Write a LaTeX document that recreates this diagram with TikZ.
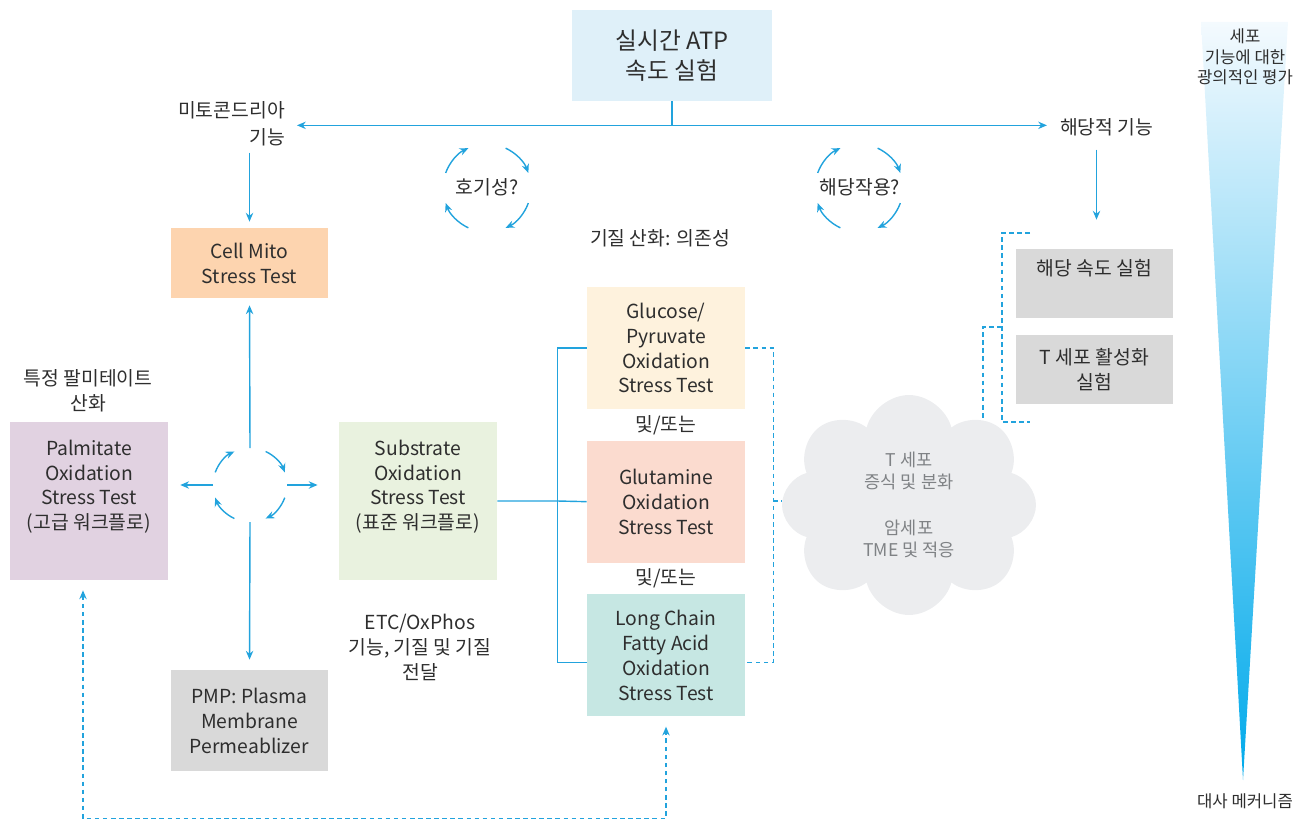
\documentclass[tikz,border=0pt]{standalone}
\usepackage{fontspec}
\setmainfont{Noto Sans CJK KR}
\usetikzlibrary{positioning,calc,arrows.meta,shapes.symbols}

\definecolor{flowblue}{HTML}{22A3DD}
\definecolor{inkgray}{HTML}{2E2E2E}
\definecolor{atpblue}{HTML}{DFF0F9}
\definecolor{mitopeach}{HTML}{FDD4AF}
\definecolor{palmlilac}{HTML}{E1D2E1}
\definecolor{subsgreen}{HTML}{E9F2DF}
\definecolor{pmpgray}{HTML}{D9D9D9}
\definecolor{glucyellow}{HTML}{FEF2DD}
\definecolor{glutsalmon}{HTML}{FBDBCF}
\definecolor{lcfateal}{HTML}{C6E7E3}
\definecolor{cloudgray}{HTML}{ECEDEF}
\definecolor{cloudtext}{HTML}{7F8285}
\definecolor{tritop}{HTML}{F4FAFE}
\definecolor{trimid}{HTML}{ABDCF4}
\definecolor{tribot}{HTML}{00AAEB}

\begin{document}
\begin{tikzpicture}[x=0.02cm, y=-0.02cm, >={Stealth[length=5pt,width=4.2pt]},
  every node/.style={text=inkgray, font=\fontsize{11}{14.2}\selectfont},
  testbox/.style={fill=#1, align=center, inner sep=0pt, minimum width=3.16cm, minimum height=2.44cm},
  solidline/.style={draw=flowblue, line width=0.8pt},
  flow/.style={solidline, ->},
  dashline/.style={solidline, dash pattern=on 2.6pt off 2pt},
  small/.style={font=\fontsize{9.5}{11.6}\selectfont}]
  \useasboundingbox (0,0) rectangle (1305,821);

  % scale of cellular function
  \shade[top color=tritop, middle color=trimid, bottom color=tribot] (1201,22) -- (1288,22) -- (1243,780) -- cycle;
  \node[small, align=center] (broad) at (1245,57) {세포\\기능에 대한\\광의적인 평가};
  \node[small] (mech) at (1245,801) {대사 메커니즘};

  % assays
  \node[testbox=atpblue, minimum width=4cm, minimum height=1.82cm, font=\fontsize{13.5}{17}\selectfont] (atp) at (672,55.5) {실시간 ATP\\속도 실험};
  \node[testbox=mitopeach, minimum width=3.14cm, minimum height=1.4cm] (mito) at (249.5,263) {Cell Mito\\Stress Test};
  \node[testbox=palmlilac, minimum height=3.16cm] (palm) at (89,501) {Palmitate\\Oxidation\\Stress Test\\(고급 워크플로)\\\strut};
  \node[testbox=subsgreen, minimum height=3.16cm] (subs) at (418,501) {Substrate\\Oxidation\\Stress Test\\(표준 워크플로)\\\strut};
  \node[testbox=pmpgray, minimum width=3.14cm, minimum height=2.02cm] (pmp) at (249.5,720.5) {PMP: Plasma\\Membrane\\Permeablizer};
  \node[testbox=glucyellow] (gluc) at (666,348) {Glucose/\\Pyruvate\\Oxidation\\Stress Test};
  \node[testbox=glutsalmon, below=0.62cm of gluc] (glut) {Glutamine\\Oxidation\\Stress Test};
  \node[testbox=lcfateal, below=0.62cm of glut] (lcfa) {Long Chain\\Fatty Acid\\Oxidation\\Stress Test};
  \node[testbox=pmpgray, minimum width=3.14cm, minimum height=1.38cm] (rate) at (1094.5,283.5) {해당 속도 실험\\\strut};
  \node[testbox=pmpgray, minimum width=3.14cm, minimum height=1.38cm, below=0.32cm of rate] (tact) {T 세포 활성화\\실험};

  % labels
  \node[anchor=east, align=right, font=\fontsize{11}{15.3}\selectfont] (mitolbl) at (291,124) {미토콘드리아\\기능};
  \node[anchor=west] (glyclbl) at (1054,127) {해당적 기능};
  \node[align=center] (palmlbl) at (88,390.5) {특정 팔미테이트\\산화};
  \node (aer) at (487,187) {호기성?};
  \node (glyq) at (860,187) {해당작용?};
  \node (subdep) at (660,238) {기질 산화: 의존성};
  \node[align=center] (etc) at (420,647.5) {ETC/OxPhos\\기능, 기질 및 기질\\전달};
  \node (or1) at ($(gluc.south)!0.5!(glut.north)$) {및/또는};
  \node (or2) at ($(glut.south)!0.5!(lcfa.north)$) {및/또는};

  % ATP rate split
  \draw[solidline] (atp.south) -- ++(0,24) coordinate (split);
  \draw[flow, shorten >=3.4pt] (split) -- (split -| mitolbl.east);
  \draw[flow, shorten >=4pt] (split) -- (split -| glyclbl.west);
  \draw[flow] ($(mito.north)+(0,-75)$) -- ($(mito.north)+(0,-6)$);
  \draw[flow] ($(rate.north)+(2,-99)$) -- ($(rate.north)+(2,-29)$);

  % cycles
  \foreach \cx/\cy/\r in {487/188/0.88cm, 859/188/0.88cm, 250/485/0.74cm}
    \foreach \a in {160,65,-20,-115}
      \draw[flow] ($(\cx,\cy)+(\a:\r)$) arc[start angle=\a, delta angle=-45, radius=\r];

  \coordinate (hub) at (250,485);
  \draw[flow, shorten >=4pt] ($(hub)+(0,-37)$) -- (mito.south);
  \draw[flow, shorten >=5.7pt] ($(hub)+(0,37)$) -- (pmp.north);
  \draw[flow, shorten >=6.8pt] ($(hub)+(-37,0)$) -- (hub -| palm.east);
  \draw[flow, shorten >=12pt] ($(hub)+(37,0)$) -- (hub -| subs.west);

  % substrate fork
  \draw[solidline] (subs.east) -- ++(60,0) coordinate (fork) -- (glut.west);
  \draw[solidline] (gluc.west) -| (fork) |- ($(lcfa.west)+(0,7)$);
  \draw[dashline] (gluc.east) -- ++(28,0) |- ($(lcfa.east)+(0,7)$);
  \draw[dashline, <->, shorten <=5.7pt, shorten >=5.7pt] ($(palm.south)+(-6,0)$) -- ++(0,238) -| (lcfa.south);

  % T cell brackets
  \coordinate (brtop) at (1030,233);
  \coordinate (brbot) at (1030,422);
  \draw[dashline] (brtop) -| (1002,422) -- (brbot);
  \draw[dashline] (1002,327) -| (983,430);

  \node[cloud, cloud puffs=8, fill=cloudgray, minimum width=5.08cm, minimum height=4.4cm, inner sep=0pt, align=center, text=cloudtext, font=\fontsize{10}{12.5}\selectfont] (cloud) at (909,505) {T 세포\\증식 및 분화\\[14pt]암세포\\TME 및 적응};
  \coordinate (dmid) at (773,501);
  \draw[dashline] (dmid) -- (dmid -| cloud.west);
\end{tikzpicture}
\end{document}
